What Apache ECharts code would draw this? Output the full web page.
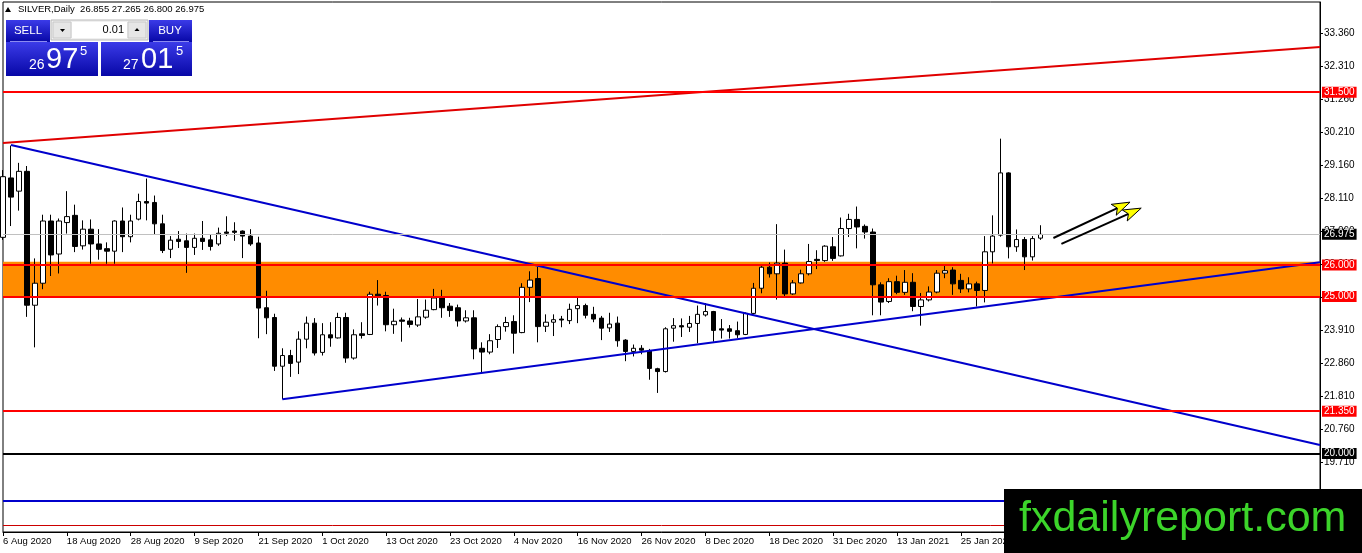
<!DOCTYPE html>
<html>
<head>
<meta charset="utf-8">
<script src="https://cdn.jsdelivr.net/npm/echarts@6/dist/echarts.min.js"></script>
<style>
html,body{margin:0;padding:0;background:#fff;}
#chart{width:1362px;height:553px;}
</style>
</head>
<body>
<div id="chart"></div>
<script>
// daily bars, 6 Aug 2020 .. 8 Feb 2021
var opens = [
  26.88,28.77,28.35,28.98,24.72,25.42,27.40,26.35, 27.35,27.58,26.61,27.14,26.67,26.52,26.44,27.40,
  26.90,27.46,28.02,27.99,27.31,26.50,26.82,26.77, 26.56,26.85,26.80,26.67,27.05,27.08,27.08,26.92,
  26.70,24.64,24.33,22.78,23.12,22.91,23.64,24.15, 23.22,23.78,23.68,24.33,23.04,23.81,23.79,25.07,
  25.03,24.10,24.25,24.22,24.09,24.34,24.58,24.95, 24.69,24.64,24.22,24.32,23.35,23.23,23.63,24.04,
  24.20,23.85,25.29,25.57,24.05,24.18,24.28,24.23, 24.61,24.71,24.43,24.31,24.00,24.15,23.61,23.25,
  23.35,23.27,22.70,22.61,23.99,24.07,24.02,24.14, 24.41,24.52,23.97,23.97,23.91,23.79,24.46,25.26,
  25.93,25.72,26.06,25.08,25.43,25.72,26.18,26.14, 26.58,26.29,27.16,27.45,27.23,27.05,25.37,24.84,
  25.47,25.13,25.45,24.68,24.89,25.14,25.74,25.84, 25.51,25.24,25.40,25.19,26.42,26.95,28.93,26.58,
  26.81,26.26,26.855
];
var highs = [
  29.02,29.80,29.25,29.15,26.21,27.60,27.60,27.48, 28.35,27.92,27.42,27.45,27.14,26.72,27.42,27.83,
  27.60,28.27,28.75,28.21,27.60,26.92,27.08,27.00, 27.00,27.40,26.96,27.19,27.55,27.36,27.10,27.14,
  26.90,25.18,24.45,23.35,23.30,23.89,24.36,24.31, 24.15,24.18,24.48,24.48,23.95,24.18,25.15,25.52,
  25.15,24.61,24.33,24.32,24.92,24.90,25.24,25.21, 24.79,24.74,24.56,24.56,23.54,23.80,24.11,24.35,
  24.40,25.42,25.80,25.94,24.43,24.43,24.38,24.77, 24.95,24.77,24.67,24.38,24.48,24.36,23.64,23.47,
  23.45,23.33,22.73,24.02,24.31,24.30,24.38,24.71, 24.79,24.54,24.28,24.09,24.20,24.49,25.43,26.03,
  26.08,27.30,26.49,25.52,25.85,26.67,26.47,26.63, 26.89,27.51,27.63,27.86,27.29,27.16,25.45,25.58,
  25.66,25.84,25.74,25.11,25.32,25.84,25.98,25.93, 25.72,25.61,25.47,26.92,27.58,30.02,28.95,27.13,
  26.89,26.92,27.265
];
var lows = [
  26.80,27.24,27.73,24.35,23.38,25.23,25.65,25.73, 27.00,26.41,26.49,26.04,26.17,26.04,26.04,26.41,
  26.72,27.42,27.42,26.96,26.38,26.22,26.54,25.75, 26.32,26.48,26.46,26.61,26.92,26.77,26.22,26.61,
  23.67,23.80,22.63,21.73,22.44,22.53,23.35,23.12, 23.12,23.40,23.66,22.89,22.99,23.66,23.77,24.71,
  23.89,23.81,23.56,24.01,24.03,24.29,24.56,24.32, 24.35,24.04,24.17,23.00,22.55,23.16,23.36,23.88,
  23.18,23.83,24.82,23.54,23.87,23.74,24.02,24.12, 24.15,24.30,24.18,23.61,23.87,23.40,22.94,23.09,
  23.16,22.35,21.93,22.58,23.56,23.71,23.87,23.51, 24.36,23.56,23.66,23.66,23.68,23.77,24.43,25.10,
  25.60,24.90,25.00,25.05,25.41,25.67,25.87,26.10, 26.13,26.27,26.89,26.53,26.84,24.40,24.40,24.79,
  25.07,25.05,24.53,24.07,24.84,25.10,25.58,25.05, 25.11,25.13,24.68,24.81,26.05,26.90,26.21,26.42,
  25.84,26.14,26.800
];
var closes = [
  28.81,28.16,28.98,24.72,25.42,27.40,26.32,27.40, 27.54,26.59,27.14,26.67,26.50,26.44,27.40,26.90,
  27.40,28.02,27.97,27.31,26.46,26.79,26.75,26.56, 26.85,26.75,26.59,27.01,27.01,27.04,26.92,26.67,
  24.63,24.32,22.78,23.12,22.87,23.64,24.15,23.20, 23.78,23.68,24.33,23.04,23.78,23.76,25.07,25.02,
  24.10,24.21,24.21,24.11,24.35,24.56,24.95,24.64, 24.55,24.22,24.32,23.33,23.23,23.59,24.04,24.17,
  23.83,25.29,25.52,24.04,24.18,24.26,24.25,24.59, 24.71,24.40,24.28,23.99,24.12,23.59,23.25,23.35,
  23.29,22.71,22.61,23.97,24.07,24.03,24.14,24.43, 24.52,23.92,23.93,23.89,23.78,24.46,25.26,25.93,
  25.72,26.06,25.08,25.43,25.72,26.11,26.14,26.60, 26.21,27.16,27.45,27.21,27.05,25.37,24.82,25.47,
  25.13,25.45,24.68,24.89,25.14,25.74,25.82,25.40, 25.24,25.40,25.19,26.42,26.92,28.93,26.58,26.81,
  26.26,26.84,26.975
];

var barCount = 166;              // bars plus empty space on the right
var priceTicks = [17.61,18.66,19.71,20.76,21.81,22.86,23.91,24.96,26.01,27.06,28.11,29.16,30.21,31.26,32.31,33.36];
var redLevels = [31.5, 26.0, 25.0, 21.35];
var bidPrice = 26.975;
var blackLevel = 20.0;
var blueLevel = 18.5;
var thinRedLevel = 17.73;
var zone = [25.0, 26.1];
var resistLine = [[0, 29.88], [165, 32.94]];
var fallLine = [[1, 29.82], [165, 20.27]];
var riseLine = [[35, 21.73], [165, 26.09]];
var arrows = [[131.6, 26.86, 141.2, 28.0], [132.6, 26.67, 142.6, 27.81]];
var quote = ['26.855', '27.265', '26.800', '26.975'];

// trading days, weekends + 25 Dec / 1 Jan skipped
var monthNames = ['Jan','Feb','Mar','Apr','May','Jun','Jul','Aug','Sep','Oct','Nov','Dec'];
var dates = [];
var d = new Date(Date.UTC(2020, 7, 6));
while (dates.length < barCount) {
  var wd = d.getUTCDay(), m = d.getUTCMonth(), dd = d.getUTCDate();
  var holiday = (m == 11 && dd == 25) || (m == 0 && dd == 1);
  if (wd != 0 && wd != 6 && !holiday) {
    dates.push(dd + ' ' + monthNames[m] + ' ' + d.getUTCFullYear());
  }
  d.setUTCDate(dd + 1);
}

var candleData = opens.map(function (o, i) {
  return [o, closes[i], lows[i], highs[i]];
});

var FONT = 'Liberation Sans';

function level(v, color, width, tagBg) {
  return {
    yAxis: v,
    lineStyle: {color: color, width: width, type: 'solid'},
    label: tagBg ? {
      show: true, position: 'end', distance: 2,
      formatter: v.toFixed(3),
      backgroundColor: tagBg, color: '#fff',
      padding: [1, 2, 0, 2], fontSize: 10, fontFamily: FONT
    } : {show: false}
  };
}

var levelData = [level(bidPrice, '#c0c0c0', 1, '#000')];
redLevels.forEach(function (v) { levelData.push(level(v, '#ff0000', 2, '#ff0000')); });
levelData.push(level(blackLevel, '#000', 2, '#000'));
levelData.push(level(blueLevel, '#0000cc', 2, null));
levelData.push(level(thinRedLevel, '#cc0000', 1, null));

var chart = echarts.init(document.getElementById('chart'));

var blueGrad = new echarts.graphic.LinearGradient(0, 0, 0, 1, [
  {offset: 0, color: '#3b3be8'}, {offset: 1, color: '#0707a6'}
]);

var option = {
  animation: false,
  backgroundColor: '#fff',
  grid: {left: 3, top: 2, width: 1317, height: 530, show: true, borderColor: '#000', borderWidth: 1},
  xAxis: [
    {
      type: 'category', data: dates, boundaryGap: false,
      axisLine: {onZero: false, lineStyle: {color: '#000', width: 1}},
      axisTick: {interval: function (i) { return i % 8 === 0; }, length: 4, lineStyle: {color: '#000'}},
      axisLabel: {
        interval: function (i) { return i % 8 === 0; },
        showMaxLabel: false, align: 'left', margin: 4,
        color: '#000', fontSize: 9.5, fontFamily: FONT
      },
      splitLine: {show: false}
    },
    {type: 'value', min: 0, max: barCount - 1, show: false}
  ],
  yAxis: {
    type: 'value', position: 'right', min: 17.505, max: 34.368, scale: true,
    axisLine: {show: true, onZero: false, lineStyle: {color: '#000'}},
    axisTick: {show: true, inside: false, customValues: priceTicks, length: 3, lineStyle: {color: '#000'}},
    axisLabel: {
      customValues: priceTicks, margin: 4, color: '#000', fontSize: 10, fontFamily: FONT,
      formatter: function (v) { return v.toFixed(3); }
    },
    splitLine: {show: false}
  },
  series: [
    {
      type: 'candlestick', name: 'SILVER', xAxisIndex: 0, data: candleData,
      barWidth: 5, z: 3,
      itemStyle: {color: '#fff', color0: '#000', borderColor: '#000', borderColor0: '#000', borderWidth: 1},
      emphasis: {disabled: true},
      markArea: {
        silent: true,
        itemStyle: {color: '#ff8c00'},
        data: [[{yAxis: zone[0]}, {yAxis: zone[1]}]]
      },
      markLine: {silent: true, symbol: ['none', 'none'], data: levelData}
    },
    {
      type: 'line', xAxisIndex: 1, data: resistLine, symbol: 'none', z: 4,
      lineStyle: {color: '#e00000', width: 2}
    },
    {
      type: 'line', xAxisIndex: 1, data: fallLine, symbol: 'none', z: 4,
      lineStyle: {color: '#0000cc', width: 2}
    },
    {
      type: 'line', xAxisIndex: 1, data: riseLine, symbol: 'none', z: 4,
      lineStyle: {color: '#0000cc', width: 2}
    },
    {
      type: 'custom', xAxisIndex: 1, data: arrows, z: 10,
      encode: {x: [0, 2], y: [1, 3]},
      renderItem: function (params, api) {
        var a = api.coord([api.value(0), api.value(1)]);
        var b = api.coord([api.value(2), api.value(3)]);
        var dx = b[0] - a[0], dy = b[1] - a[1];
        var len = Math.sqrt(dx * dx + dy * dy);
        var ux = dx / len, uy = dy / len;
        var hl = 18, hw = 6;
        var bx = b[0] - ux * hl, by = b[1] - uy * hl;
        var nx = b[0] - ux * (hl - 4), ny = b[1] - uy * (hl - 4);
        return {
          type: 'group',
          children: [
            {type: 'line', shape: {x1: a[0], y1: a[1], x2: nx, y2: ny}, style: {stroke: '#000', lineWidth: 2}},
            {type: 'polygon', shape: {points: [
              [b[0], b[1]], [bx - uy * hw, by + ux * hw], [nx, ny], [bx + uy * hw, by - ux * hw]
            ]}, style: {fill: '#ffff00', stroke: '#000', lineWidth: 1}}
          ]
        };
      }
    }
  ],
  graphic: {
    elements: [
      // header
      {type: 'polygon', z: 50, shape: {points: [[5, 12], [11, 12], [8, 7]]}, style: {fill: '#000'}},
      {type: 'text', z: 50, left: 18, top: 4,
        style: {text: 'SILVER,Daily  ' + quote.join(' '), fill: '#000', fontSize: 9.5, fontFamily: FONT}},
      // one-click trading panel
      {type: 'rect', z: 50, shape: {x: 6, y: 20, width: 44, height: 22}, style: {fill: blueGrad}},
      {type: 'rect', z: 50, shape: {x: 149, y: 20, width: 43, height: 22}, style: {fill: blueGrad}},
      {type: 'line', z: 51, shape: {x1: 10, y1: 41.5, x2: 47, y2: 41.5}, style: {stroke: '#8b8bf0', lineWidth: 1}},
      {type: 'line', z: 51, shape: {x1: 153, y1: 41.5, x2: 189, y2: 41.5}, style: {stroke: '#8b8bf0', lineWidth: 1}},
      {type: 'text', z: 52, x: 28, y: 31, style: {text: 'SELL', fill: '#fff', fontSize: 11.5, fontFamily: FONT, align: 'center', verticalAlign: 'middle'}},
      {type: 'text', z: 52, x: 170, y: 31, style: {text: 'BUY', fill: '#fff', fontSize: 11.5, fontFamily: FONT, align: 'center', verticalAlign: 'middle'}},
      {type: 'rect', z: 50, shape: {x: 51, y: 20, width: 97, height: 20}, style: {fill: '#f0f0f0', stroke: '#b8b8b8', lineWidth: 1}},
      {type: 'rect', z: 51, shape: {x: 53, y: 22, width: 18, height: 16}, style: {fill: '#e6e6e6', stroke: '#c8c8c8', lineWidth: 1}},
      {type: 'rect', z: 51, shape: {x: 72, y: 22, width: 55, height: 16}, style: {fill: '#fff'}},
      {type: 'rect', z: 51, shape: {x: 128, y: 22, width: 18, height: 16}, style: {fill: '#e6e6e6', stroke: '#c8c8c8', lineWidth: 1}},
      {type: 'polygon', z: 52, shape: {points: [[60, 29], [65, 29], [62.5, 32]]}, style: {fill: '#000'}},
      {type: 'polygon', z: 52, shape: {points: [[134.5, 31], [139.5, 31], [137, 28]]}, style: {fill: '#000'}},
      {type: 'text', z: 52, x: 124, y: 30, style: {text: '0.01', fill: '#000', fontSize: 11, fontFamily: FONT, align: 'right', verticalAlign: 'middle'}},
      {type: 'rect', z: 50, shape: {x: 6, y: 42, width: 92, height: 34}, style: {fill: blueGrad}},
      {type: 'rect', z: 50, shape: {x: 101, y: 42, width: 91, height: 34}, style: {fill: blueGrad}},
      {type: 'text', z: 52, x: 29, y: 72, style: {text: '26', fill: '#fff', fontSize: 14, fontFamily: FONT, verticalAlign: 'bottom'}},
      {type: 'text', z: 52, x: 46, y: 74, style: {text: '97', fill: '#fff', fontSize: 29, fontFamily: FONT, verticalAlign: 'bottom'}},
      {type: 'text', z: 52, x: 80, y: 45, style: {text: '5', fill: '#fff', fontSize: 13, fontFamily: FONT, verticalAlign: 'top'}},
      {type: 'text', z: 52, x: 123, y: 72, style: {text: '27', fill: '#fff', fontSize: 14, fontFamily: FONT, verticalAlign: 'bottom'}},
      {type: 'text', z: 52, x: 141, y: 74, style: {text: '01', fill: '#fff', fontSize: 29, fontFamily: FONT, verticalAlign: 'bottom'}},
      {type: 'text', z: 52, x: 176, y: 45, style: {text: '5', fill: '#fff', fontSize: 13, fontFamily: FONT, verticalAlign: 'top'}},
      // watermark
      {type: 'rect', z: 100, shape: {x: 1004, y: 489, width: 358, height: 64}, style: {fill: '#000'}},
      {type: 'text', z: 101, x: 1019, y: 519, style: {text: 'fxdailyreport.com', fill: '#3cd42a', fontSize: 43, fontFamily: FONT, verticalAlign: 'middle'}}
    ]
  }
};

chart.setOption(option);
</script>
</body>
</html>
